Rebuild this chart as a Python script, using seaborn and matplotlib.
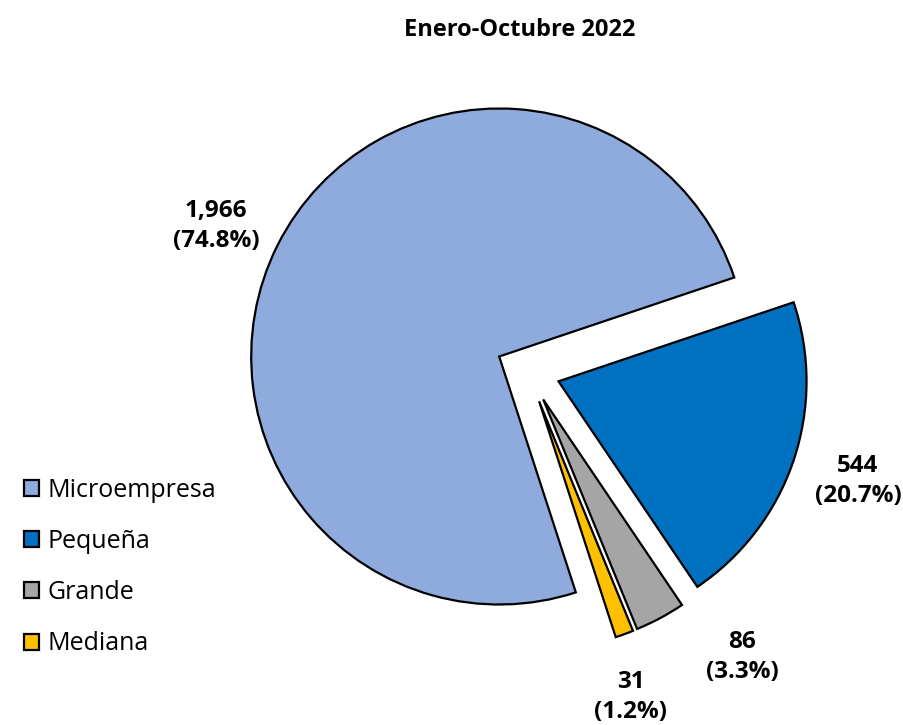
import matplotlib.pyplot as plt
import seaborn as sns

# data
categories = ['Microempresa', 'Pequeña', 'Grande', 'Mediana']
values = [1966, 544, 86, 31]
colors = ['#8FAADC', '#0070C0', '#A5A5A5', '#FFC000']
title = 'Enero-Octubre 2022'

sns.set_theme(style='white')
plt.rcParams['font.family'] = ['Open Sans', 'DejaVu Sans']
plt.rcParams['text.color'] = 'black'

fig = plt.figure(figsize=(9.04, 7.25), dpi=100)
ax = fig.add_axes([0, 0, 1, 1])

total = sum(values)
wedges, _ = ax.pie(values, colors=colors, startangle=-72, counterclock=False,
                   explode=[0.13] * len(values),
                   wedgeprops={'edgecolor': 'black', 'linewidth': 1.6})

# pie centre ~ (528, 371) px, radius ~ 248 px
ax.set_xlim(-528 / 248, (904 - 528) / 248)
ax.set_ylim(-354 / 248, (725 - 354) / 248)
ax.set_aspect('equal')

# value labels, placed in figure pixels
label_pos = [(216, 226), (858, 481), (742, 657), (631, 697)]
for v, (px, py) in zip(values, label_pos):
    pct = v / total * 100
    fig.text(px / 904, 1 - py / 725, f'{v:,}\n({pct:.1f}%)', ha='center', va='center',
             fontsize=17.5, fontweight='bold', linespacing=1.3, color='black')

fig.text(520 / 904, 1 - 30 / 725, title, ha='center', va='center',
         fontsize=17, fontweight='bold', color='black')

leg = fig.legend(wedges, categories, loc='center left', bbox_to_anchor=(0.015, 1 - 567 / 725),
                 frameon=False, fontsize=18, handlelength=0.6, handleheight=0.6,
                 handletextpad=0.35, labelspacing=1.05, borderaxespad=0)
for t in leg.get_texts():
    t.set_color('black')

fig.savefig('out.png', dpi=100)
